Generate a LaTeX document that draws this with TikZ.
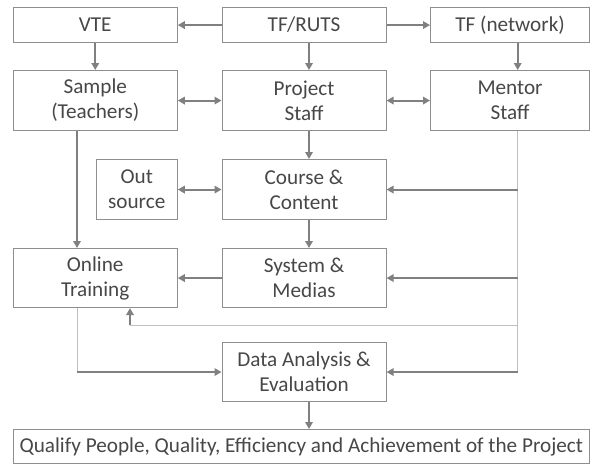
\documentclass[tikz,border=0pt]{standalone}
\usepackage{fontspec}
\setmainfont{Carlito}
\usepackage{tikz}
\usetikzlibrary{arrows.meta}
\definecolor{boxgray}{HTML}{8E8E8E}
\definecolor{flowgray}{HTML}{808080}
\definecolor{palegray}{HTML}{BFBFBF}
\definecolor{textgray}{HTML}{474747}

\tikzset{
  box/.style={draw=boxgray, line width=1.1pt, text=textgray, align=center,
    anchor=north west, inner sep=0pt, font=\fontsize{21.2}{25}\selectfont},
  flow/.style={draw=flowgray, line width=2pt, -{Triangle[length=7pt, width=7.5pt]}},
  twoway/.style={draw=flowgray, line width=2pt, {Triangle[length=7pt, width=7.5pt]}-{Triangle[length=7pt, width=7.5pt]}},
  pale/.style={draw=palegray, line width=1pt}
}

\begin{document}
\begin{tikzpicture}[x=1pt, y=-1pt]
        \useasboundingbox (0,0) rectangle (590,464);

        % Top row
        \node[box, minimum width=164pt, minimum height=35pt] (vte) at (12.7,7) {VTE};
        \node[box, minimum width=164pt, minimum height=35pt] (tfruts) at (221.5,7) {TF/RUTS};
        \node[box, minimum width=159pt, minimum height=35pt] (tfnet) at (430,7) {TF (network)};

        % Staff row
        \node[box, minimum width=164pt, minimum height=60pt] (sample) at (12.7,70) {Sample\\(Teachers)};
        \node[box, minimum width=164pt, minimum height=60pt] (project) at (221.5,70) {Project\\Staff};
        \node[box, minimum width=159pt, minimum height=60pt] (mentor) at (430,70) {Mentor\\Staff};

        % Course
        \node[box, minimum width=81pt, minimum height=60pt] (outsrc) at (95.7,159) {Out\\source};
        \node[box, minimum width=164pt, minimum height=60pt] (course) at (221.5,159) {Course \&\\Content};

        % Training
        \node[box, minimum width=164pt, minimum height=59pt] (online) at (12.7,248) {Online\\Training};
        \node[box, minimum width=164pt, minimum height=59pt] (system) at (221.5,248) {System \&\\Medias};

        % Evaluation
        \node[box, minimum width=164pt, minimum height=59pt] (data) at (221.5,342) {Data Analysis \&\\Evaluation};
        \node[box, minimum width=576pt, minimum height=34pt] (qualify) at (12.7,429) {Qualify People, Quality, Efficiency and Achievement of the Project};

        % Guide lines
        \coordinate (mid) at (309,0);
        \coordinate (bus) at (517.7,0);
        \coordinate (lft) at (77,0);
        \coordinate (fb) at (130,325);

        % Top arrows
        \draw[flow] (tfruts) -- (vte);
        \draw[flow] (tfruts) -- (tfnet);
        \draw[flow] (vte) -- (sample);
        \draw[flow] (tfruts.south -| mid) -- (project.north -| mid);
        \draw[flow] (tfnet.south -| bus) -- (mentor.north -| bus);
        \draw[twoway] (sample) -- (project);
        \draw[twoway] (project) -- (mentor);

        % Middle arrows
        \draw[flow] (project.south -| mid) -- (course.north -| mid);
        \draw[twoway] (outsrc) -- (outsrc -| course.west);
        \draw[flow] (course.south -| mid) -- (system.north -| mid);
        \draw[flow] (system) -- (online);
        \draw[flow] (sample.south -| lft) -- (online.north -| lft);

        % Mentor bus on the right
        \draw[pale] (mentor.south -| bus) -- (data.east -| bus);
        \draw[flow] (course.east -| bus) -- (course.east);
        \draw[flow] (system.east -| bus) -- (system.east);
        \draw[flow] (data.east -| bus) -- (data.east);

        % Feedback to training
        \draw[pale] (fb -| bus) -- (fb);
        \draw[flow] (fb) -- (online.south -| fb);

        % Training to evaluation
        \draw[pale] (online.south -| lft) -- (data.west -| lft);
        \draw[flow] (data.west -| lft) -- (data.west);
        \draw[flow] (data.south -| mid) -- (qualify.north -| mid);
\end{tikzpicture}
\end{document}
